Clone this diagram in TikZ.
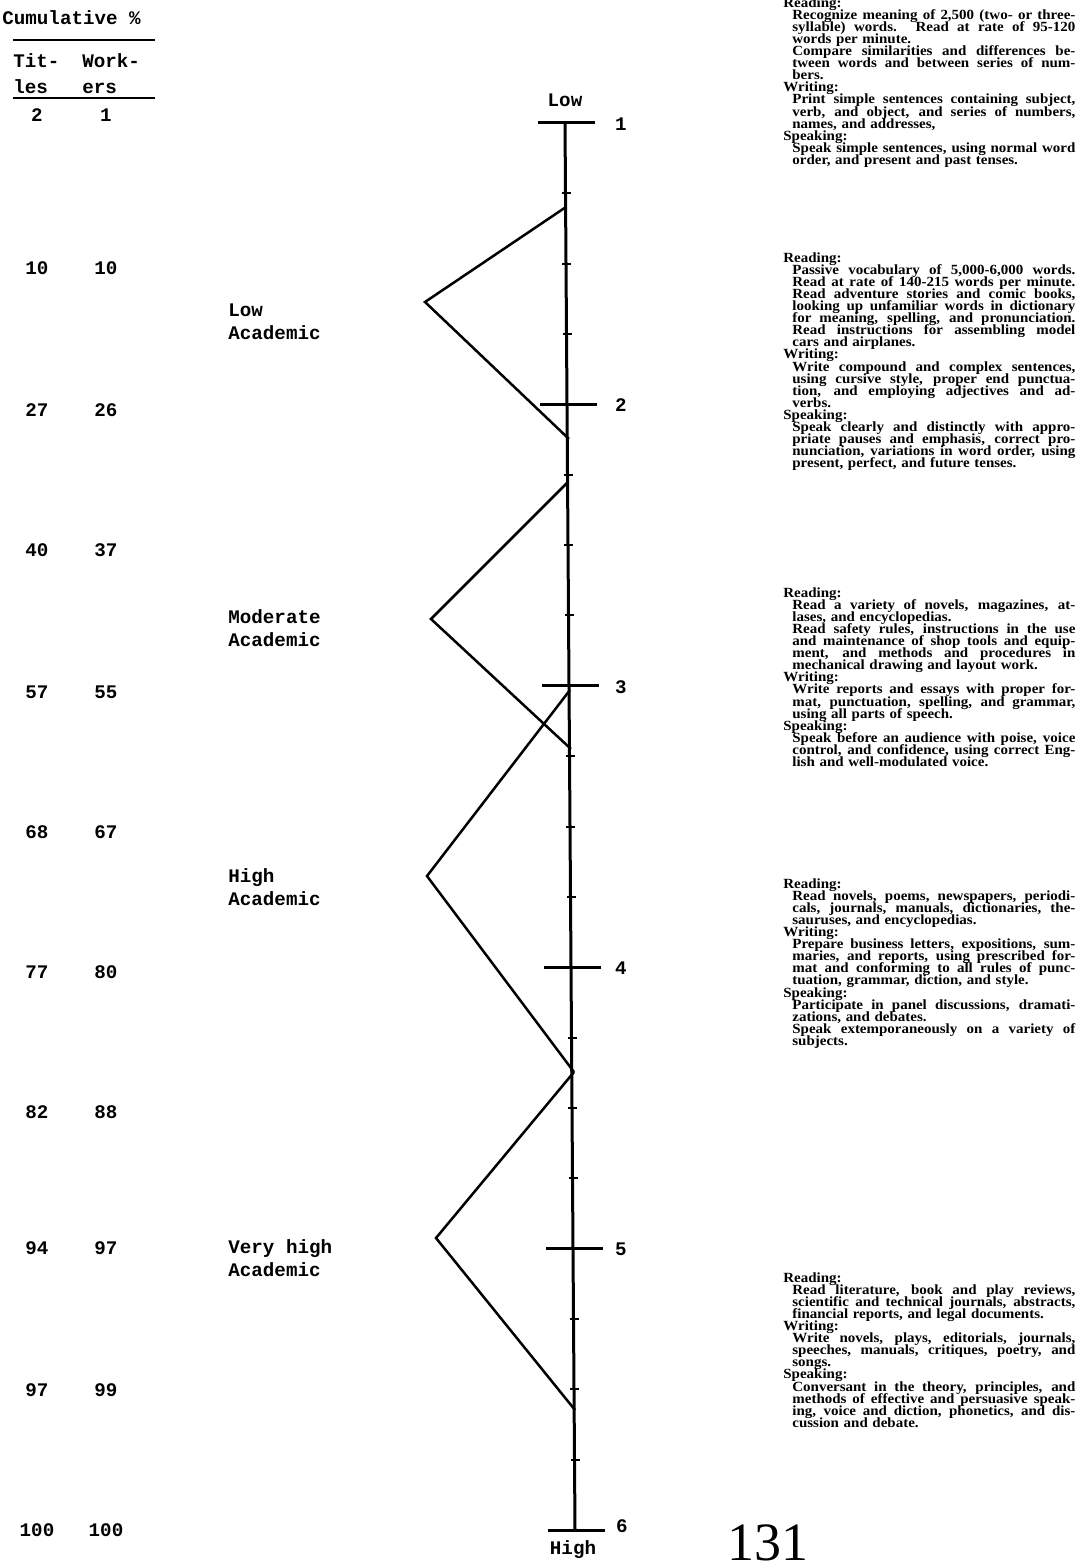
\documentclass[tikz,border=0pt]{standalone}
\usepackage{fontspec}
\setmainfont{Liberation Serif}
\newfontfamily\twfont{Liberation Mono}
\newfontfamily\descfont[FakeStretch=1.07]{Liberation Serif}
\newlength\bodyw
\setlength\bodyw{141.5pt}
\newcommand\freespaces{\spaceskip=0pt\relax\xspaceskip=0pt\relax}
\newcommand\tightlines{\lineskiplimit=-20pt\relax\lineskip=0pt\relax}
\newcommand\Jl[1]{\hspace*{4.5pt}\makebox[\bodyw][s]{\freespaces #1}}
\newcommand\Lt[1]{\hspace*{4.5pt}#1}
\tikzset{
  ax/.style={line width=1.5pt},
  mj/.style={line width=1.5pt},
  mn/.style={line width=1pt},
  chev/.style={line width=1.25pt, line join=miter},
  tw/.style={font=\twfont\bfseries\fontsize{9.6}{11.5}\selectfont, inner sep=0pt},
  blk/.style={font={\descfont\bfseries\fontsize{7}{6.05}\selectfont},
    execute at begin node={\tightlines},
    inner sep=0pt, anchor=north west, text width=146pt, align=left},
}
\begin{document}
\begin{tikzpicture}[x=0.5pt,y=-0.5pt]
\useasboundingbox (0,0) rectangle (1078,1562);
% ---------- left header ----------
\node[tw, anchor=base west] (cum) at (2,25) {Cumulative \%};
\coordinate (u1a) at (13,40); \coordinate (u1b) at (155,40);
\draw[line width=1pt] (u1a) -- (u1b);
\node[tw, anchor=base west] (tit1) at (13,68) {Tit-};
\node[tw, anchor=base west] (tit2) at (13,94) {les};
\node[tw, anchor=base west] (wrk1) at (82,68) {Work-};
\node[tw, anchor=base west] (wrk2) at (82,94) {ers};
\coordinate (u2a) at (13,98); \coordinate (u2b) at (155,98);
\draw[line width=1pt] (u2a) -- (u2b);
% ---------- cumulative rows ----------
\foreach \a/\b/\yy [count=\k] in {2/1/115,10/10/268,27/26/410,40/37/550,57/55/692,68/67/832,77/80/972,82/88/1112,94/97/1248,97/99/1390,100/100/1530}{
  \node[tw] (ti\k) at (37,\yy) {\a};
  \node[tw] (wo\k) at (106,\yy) {\b};
}
% ---------- level labels ----------
\node[tw, anchor=west, align=left] (lab1) at (228,322) {Low\\Academic};
\node[tw, anchor=west, align=left] (lab2) at (228,628) {Moderate\\Academic};
\node[tw, anchor=west, align=left] (lab3) at (228,887) {High\\Academic};
\node[tw, anchor=west, align=left] (lab4) at (228,1258) {Very high\\Academic};
% ---------- scale ----------
\coordinate (atop) at (565,123);
\coordinate (abot) at (575,1530);
\draw[ax] (atop) -- (abot);
\foreach \j in {0,...,20}{
  \pgfmathsetmacro\yy{123+\j*70.35}
  \pgfmathsetmacro\xx{565+(\yy-123)*10/1407}
  \pgfmathtruncatemacro\r{mod(\j,4)}
  \ifnum\r=0
    \draw[mj] (\xx-27,\yy) -- (\xx+30,\yy);
  \else
    \draw[mn] (\xx-4,\yy) -- (\xx+5,\yy);
  \fi
}
\foreach \n [count=\k from 0] in {1,2,3,4,5}{
  \pgfmathsetmacro\yy{124+\k*281.4}
  \node[tw] (num\n) at (621,\yy) {\n};
}
\node[tw] (num6) at (622,1526) {6};
\node[tw] (low) at (565,100) {Low};
\node[tw] (high) at (573,1550) {High};
% ---------- chevrons ----------
\coordinate (c1t) at (566,207); \coordinate (c1a) at (425,302); \coordinate (c1b) at (569,439);
\coordinate (c2t) at (568,482); \coordinate (c2a) at (431,619); \coordinate (c2b) at (571,749);
\coordinate (c3t) at (570,690); \coordinate (c3a) at (427,876); \coordinate (c3b) at (574,1072);
\coordinate (c4a) at (436,1238); \coordinate (c4b) at (575,1410);
\draw[chev] (c1t) -- (c1a) -- (c1b);
\draw[chev] (c2t) -- (c2a) -- (c2b);
\draw[chev] (c3t) -- (c3a) -- (c3b);
\draw[chev] (c3b) -- (c4a) -- (c4b);
% ---------- descriptions ----------
\node[blk] (d1) at (783,-3) {Reading:\\
\Jl{Recognize meaning of 2,500 (two- or three-}\\
\Jl{syllable) words. Read at rate of 95-120}\\
\Lt{words per minute.}\\
\Jl{Compare similarities and differences be-}\\
\Jl{tween words and between series of num-}\\
\Lt{bers.}\\
Writing:\\
\Jl{Print simple sentences containing subject,}\\
\Jl{verb, and object, and series of numbers,}\\
\Lt{names, and addresses,}\\
Speaking:\\
\Jl{Speak simple sentences, using normal word}\\
\Lt{order, and present and past tenses.}};
\node[blk] (d2) at (783,252) {Reading:\\
\Jl{Passive vocabulary of 5,000-6,000 words.}\\
\Jl{Read at rate of 140-215 words per minute.}\\
\Jl{Read adventure stories and comic books,}\\
\Jl{looking up unfamiliar words in dictionary}\\
\Jl{for meaning, spelling, and pronunciation.}\\
\Jl{Read instructions for assembling model}\\
\Lt{cars and airplanes.}\\
Writing:\\
\Jl{Write compound and complex sentences,}\\
\Jl{using cursive style, proper end punctua-}\\
\Jl{tion, and employing adjectives and ad-}\\
\Lt{verbs.}\\
Speaking:\\
\Jl{Speak clearly and distinctly with appro-}\\
\Jl{priate pauses and emphasis, correct pro-}\\
\Jl{nunciation, variations in word order, using}\\
\Lt{present, perfect, and future tenses.}};
\node[blk] (d3) at (783,587) {Reading:\\
\Jl{Read a variety of novels, magazines, at-}\\
\Lt{lases, and encyclopedias.}\\
\Jl{Read safety rules, instructions in the use}\\
\Jl{and maintenance of shop tools and equip-}\\
\Jl{ment, and methods and procedures in}\\
\Lt{mechanical drawing and layout work.}\\
Writing:\\
\Jl{Write reports and essays with proper for-}\\
\Jl{mat, punctuation, spelling, and grammar,}\\
\Lt{using all parts of speech.}\\
Speaking:\\
\Jl{Speak before an audience with poise, voice}\\
\Jl{control, and confidence, using correct Eng-}\\
\Lt{lish and well-modulated voice.}};
\node[blk] (d4) at (783,878) {Reading:\\
\Jl{Read novels, poems, newspapers, periodi-}\\
\Jl{cals, journals, manuals, dictionaries, the-}\\
\Lt{sauruses, and encyclopedias.}\\
Writing:\\
\Jl{Prepare business letters, expositions, sum-}\\
\Jl{maries, and reports, using prescribed for-}\\
\Jl{mat and conforming to all rules of punc-}\\
\Lt{tuation, grammar, diction, and style.}\\
Speaking:\\
\Jl{Participate in panel discussions, dramati-}\\
\Lt{zations, and debates.}\\
\Jl{Speak extemporaneously on a variety of}\\
\Lt{subjects.}};
\node[blk] (d5) at (783,1272) {Reading:\\
\Jl{Read literature, book and play reviews,}\\
\Jl{scientific and technical journals, abstracts,}\\
\Lt{financial reports, and legal documents.}\\
Writing:\\
\Jl{Write novels, plays, editorials, journals,}\\
\Jl{speeches, manuals, critiques, poetry, and}\\
\Lt{songs.}\\
Speaking:\\
\Jl{Conversant in the theory, principles, and}\\
\Jl{methods of effective and persuasive speak-}\\
\Jl{ing, voice and diction, phonetics, and dis-}\\
\Lt{cussion and debate.}};
% ---------- page number ----------
\node[font=\fontsize{27}{27}\selectfont, inner sep=0pt, anchor=north] (pg) at (768,1524) {131};
\end{tikzpicture}
\end{document}
